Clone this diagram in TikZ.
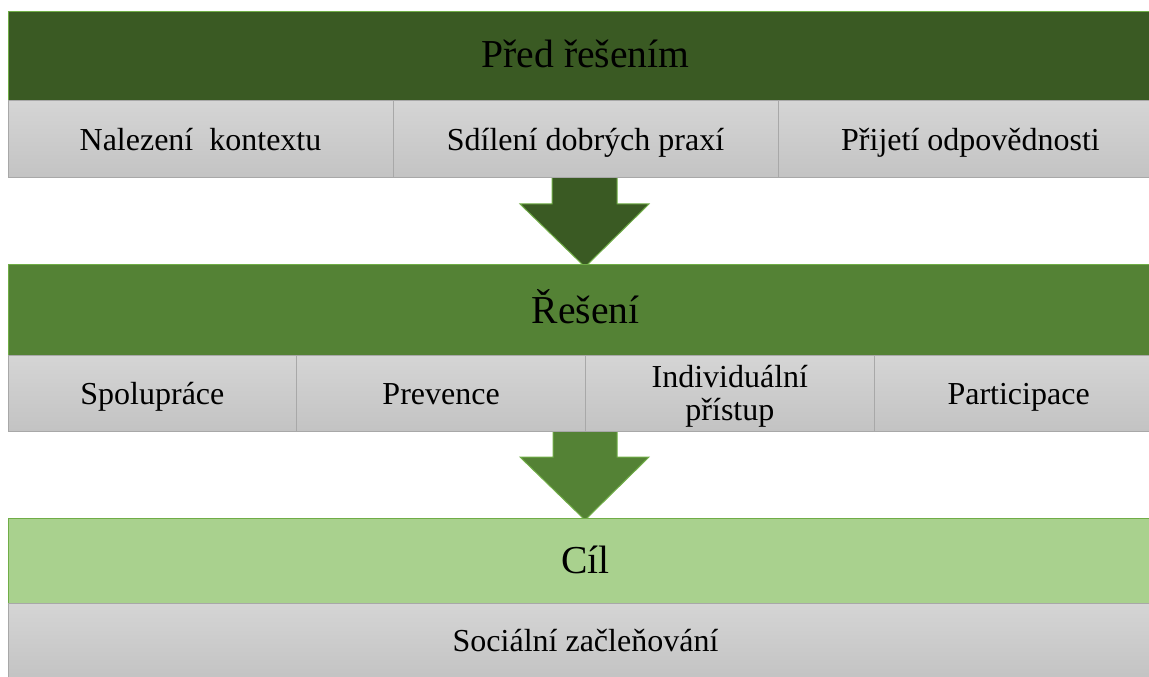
\documentclass[tikz,border=0pt]{standalone}
\usepackage{fontspec}
\setmainfont{Liberation Serif}
\definecolor{greenA}{RGB}{58,90,35}
\definecolor{greenB}{RGB}{84,130,53}
\definecolor{greenC}{RGB}{169,209,142}
\definecolor{greenEdge}{RGB}{112,173,71}
\definecolor{cellTop}{RGB}{213,213,213}
\definecolor{cellBot}{RGB}{195,195,195}
\definecolor{cellLine}{RGB}{168,168,168}
\tikzset{
  hdrshape/.style={draw=greenEdge, line width=0.75pt},
  cellshape/.style={draw=cellLine, line width=0.75pt, top color=cellTop, bottom color=cellBot},
  blockarrow/.style={draw=greenEdge, line width=0.75pt},
  hdrtext/.style={inner sep=0.75pt, font=\fontsize{29.7}{32}\selectfont},
  celltext/.style={inner sep=0.75pt, align=center, font=\fontsize{24}{24.75}\selectfont}
}
\begin{document}
\begin{tikzpicture}[x=0.75pt,y=0.75pt,yscale=-1,xscale=1]
\useasboundingbox (0,0) rectangle (1149,677);
\clip (0,0) rectangle (1149,677);

%Block Arrow [id:arrow1]
\draw [blockarrow, fill=greenA] (552,170) -- (552,204) -- (520,204) -- (585,267) -- (649,204) -- (617,204) -- (617,170) -- cycle ;
%Block Arrow [id:arrow2]
\draw [blockarrow, fill=greenB] (553,425) -- (553,457) -- (520,457) -- (585,520) -- (649,457) -- (617,457) -- (617,425) -- cycle ;

%Shape: Rectangle [id:hdr1]
\draw [hdrshape, fill=greenA] (8,12) -- (1163,12) -- (1163,101) -- (8,101) -- cycle ;
%Shape: Rectangle [id:row1]
\draw [cellshape] (8,101) rectangle (393,178) ;
\draw [cellshape] (393,101) rectangle (778,178) ;
\draw [cellshape] (778,101) rectangle (1163,178) ;

%Shape: Rectangle [id:hdr2]
\draw [hdrshape, fill=greenB] (8,265) -- (1163,265) -- (1163,355) -- (8,355) -- cycle ;
%Shape: Rectangle [id:row2]
\draw [cellshape] (8,355) rectangle (296.75,431) ;
\draw [cellshape] (296.75,355) rectangle (585.5,431) ;
\draw [cellshape] (585.5,355) rectangle (874.25,431) ;
\draw [cellshape] (874.25,355) rectangle (1163,431) ;

%Shape: Rectangle [id:hdr3]
\draw [hdrshape, fill=greenC] (8,518) -- (1163,518) -- (1163,603) -- (8,603) -- cycle ;
%Shape: Rectangle [id:row3]
\draw [cellshape] (8,603) rectangle (1163,679) ;

% Text Node
\draw (585.5,68) node [anchor=base][hdrtext] (pred) {Před řešením};
% Text Node
\draw (200.5,151) node [anchor=base][celltext] (nalezeni) {Nalezení\ \ kontextu};
% Text Node
\draw (585.5,151) node [anchor=base][celltext] (sdileni) {Sdílení dobrých praxí};
% Text Node
\draw (970.5,151) node [anchor=base][celltext] (prijeti) {Přijetí odpovědnosti};
% Text Node
\draw (585.5,323) node [anchor=base][hdrtext] (reseni) {Řešení};
% Text Node
\draw (152.4,404) node [anchor=base][celltext] (spoluprace) {Spolupráce};
% Text Node
\draw (441.1,404) node [anchor=base][celltext] (prevence) {Prevence};
% Text Node
\draw (729.9,396) node [celltext] (individualni) {Individuální\\přístup};
% Text Node
\draw (1018.6,404) node [anchor=base][celltext] (participace) {Participace};
% Text Node
\draw (585.5,573) node [anchor=base][hdrtext] (cil) {Cíl};
% Text Node
\draw (585.5,651) node [anchor=base][celltext] (zaclenovani) {Sociální začleňování};

\end{tikzpicture}
\end{document}
